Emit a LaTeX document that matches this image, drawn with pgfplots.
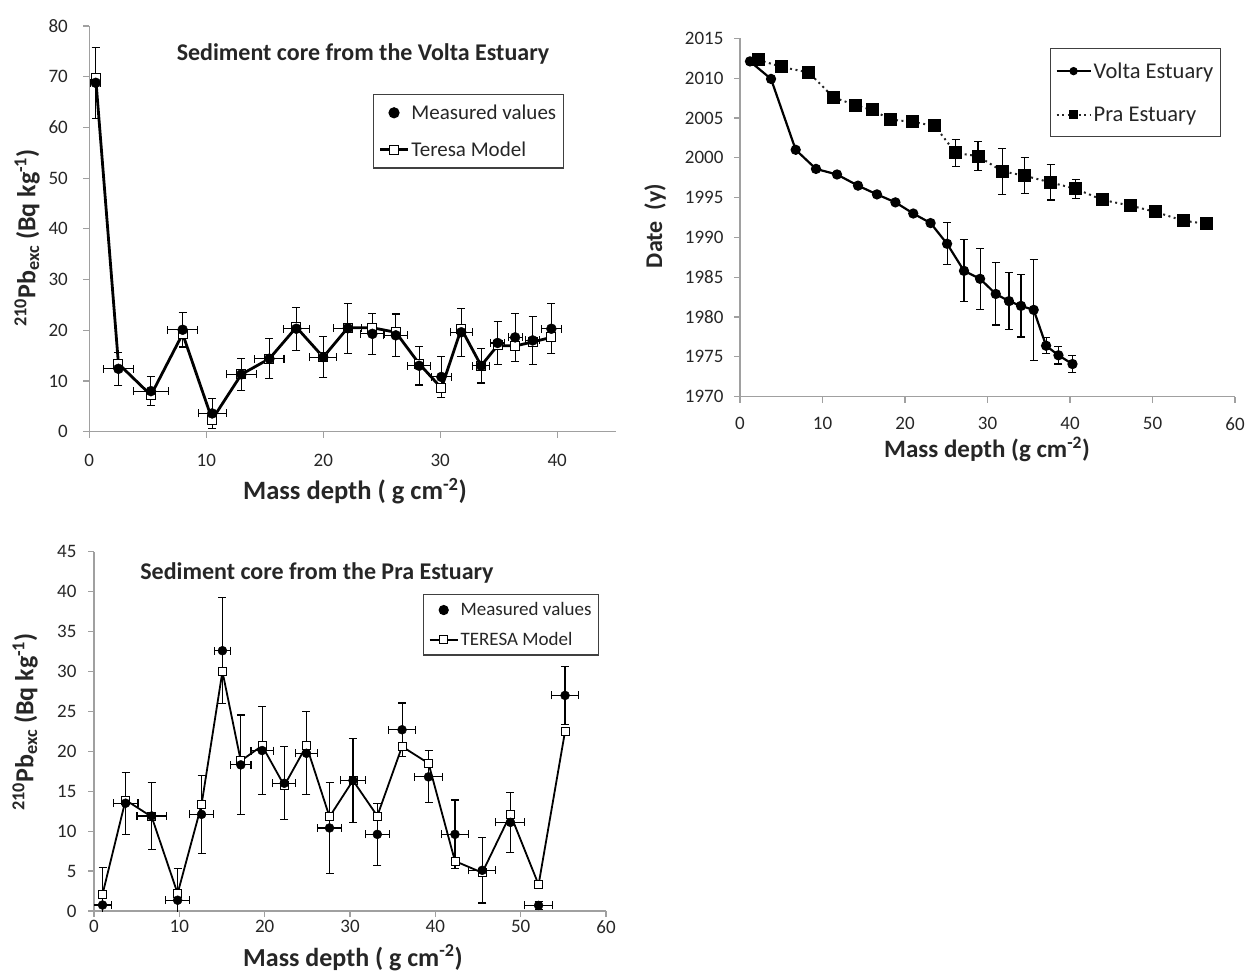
\documentclass[border=0pt]{standalone}
\usepackage{fontspec}
\setmainfont{Carlito}
\usepackage{pgfplots}
\pgfplotsset{compat=1.18}
\usepackage{pgfplotstable}

\pgfplotstableread{
x y ex ey
0.55 68.8 0.43 7.0
2.49 12.4 1.29 3.3
5.27 8.0 1.5 2.9
7.98 20.1 1.29 3.4
10.5 3.6 1.2 3.0
13.0 11.3 1.26 3.1
15.4 14.4 1.24 3.9
17.7 20.3 1.1 4.2
20.0 14.7 1.16 4.0
22.1 20.4 1.2 4.9
24.2 19.3 1.0 4.0
26.2 19.0 1.03 4.2
28.2 13.0 1.0 3.8
30.1 10.8 0.83 4.0
31.8 19.6 0.92 4.7
33.5 13.0 0.72 3.4
34.9 17.5 0.6 4.2
36.4 18.6 0.6 4.7
37.9 18.0 0.6 4.7
39.5 20.3 0.86 4.9
}\voltameas

\pgfplotstableread{
x y
0.55 69.7
2.49 13.4
5.27 7.2
7.98 19.3
10.5 2.4
13.0 11.3
15.4 14.4
17.7 20.6
20.0 14.7
22.1 20.5
24.2 20.5
26.2 19.6
28.2 13.4
30.1 8.6
31.8 20.3
33.5 13.0
34.9 17.0
36.4 16.9
37.9 17.7
39.5 18.6
}\voltamodel

\pgfplotstableread{
x y
1.21 2012.1
3.76 2009.9
6.75 2001.0
9.21 1998.6
11.76 1997.9
14.3 1996.5
16.6 1995.4
18.84 1994.4
21.0 1993.0
23.1 1991.8
25.1 1989.2
27.15 1985.8
29.1 1984.8
31.0 1982.9
32.6 1982.0
34.06 1981.4
35.6 1980.9
37.1 1976.4
38.6 1975.2
40.3 1974.1
}\voltadate

\pgfplotstableread{
x y ey
25.1 1989.2 2.65
27.15 1985.8 3.9
29.1 1984.8 3.8
31.0 1982.9 3.9
32.6 1982.0 3.6
34.06 1981.4 3.9
35.6 1980.9 6.3
37.1 1976.4 1.0
38.6 1975.2 1.1
40.3 1974.1 1.05
}\voltadateerr

\pgfplotstableread{
x y
2.22 2012.3
5.05 2011.4
8.36 2010.7
11.3 2007.6
13.98 2006.6
16.0 2006.0
18.3 2004.8
20.9 2004.5
23.6 2004.0
26.15 2000.6
28.85 2000.2
31.8 1998.3
34.5 1997.75
37.65 1996.9
40.7 1996.1
43.96 1994.7
47.3 1994.0
50.4 1993.2
53.7 1992.1
56.6 1991.7
}\pradate

\pgfplotstableread{
x y ey
26.15 2000.6 1.7
28.85 2000.2 1.8
31.8 1998.3 2.9
34.5 1997.75 2.25
37.65 1996.9 2.2
40.7 1996.1 1.2
}\pradateerr

\pgfplotstableread{
x y ex ey
1.0 0.75 1.07 4.7
3.7 13.5 1.46 3.9
6.76 11.9 1.72 4.15
9.8 1.35 1.4 4.0
12.6 12.1 1.4 4.9
15.05 32.6 0.98 6.65
17.2 18.3 1.2 6.25
19.7 20.1 1.3 5.5
22.3 16.0 1.35 4.55
24.9 19.75 1.3 5.2
27.6 10.4 1.37 5.65
30.35 16.35 1.5 5.3
33.2 9.6 1.39 3.9
36.1 22.7 1.54 3.35
39.2 16.8 1.6 3.25
42.3 9.6 1.58 4.3
45.5 5.1 1.6 4.1
48.8 11.1 1.7 3.75
52.1 0.7 1.6 0.5
55.2 27.0 1.56 3.6
}\prameas

\pgfplotstableread{
x y
1.0 2.1
3.7 13.9
6.76 11.8
9.8 2.2
12.6 13.3
15.05 30.0
17.2 18.8
19.7 20.7
22.3 15.7
24.9 20.7
27.6 11.8
30.35 16.35
33.2 11.9
36.1 20.6
39.2 18.5
42.3 6.25
45.5 4.8
48.8 12.1
52.1 3.3
55.2 22.5
}\pramodel

\definecolor{axgray}{RGB}{160,160,160}
\definecolor{txt}{RGB}{38,38,38}

\pgfplotsset{
  myax/.style={
    scale only axis,
    axis x line*=bottom, axis y line*=left,
    axis line style={draw=axgray, line width=1.2pt},
    tick style={draw=axgray, line width=1.2pt},
    tick align=outside, major tick length=6pt,
    /pgf/number format/assume math mode=true,
    /pgf/number format/1000 sep={},
    ticklabel style={font=\fontsize{19}{22}\selectfont, text=txt},
    legend cell align=left,
    legend image code/.code={\draw[mark repeat=2,mark phase=2,##1] plot coordinates {(0pt,0pt) (14pt,0pt) (28pt,0pt)};},
  },
  errs/.style={/pgfplots/error bars/error bar style={draw=black, line width=1.1pt, solid},
    /pgfplots/error bars/error mark options={rotate=90, draw=black, line width=1.1pt, mark size=4pt, solid}},
}

\begin{document}
\begin{tikzpicture}[x=1pt,y=1pt]
\path[use as bounding box] (0,0) rectangle (1248,978);

% ---------- Panel 1: Volta ----------
\begin{axis}[myax, at={(89.3pt,546.3pt)}, anchor=south west,
  width=526.4pt, height=405.7pt,
  xmin=0, xmax=45, ymin=0, ymax=80,
  xtick={0,10,...,40}, ytick={0,10,...,80},
  xticklabel style={yshift=-13pt}, yticklabel style={xshift=-12pt},
  reverse legend,
  legend style={at={(0.539,0.832)}, anchor=north west, draw=black!75, line width=1.2pt,
    font=\fontsize{21}{24}\selectfont, text=txt, row sep=17pt, inner xsep=5pt, inner ysep=8pt},
]
\addplot[black, line width=2.8pt, mark=square*, mark size=4.5pt,
  mark options={fill=white, draw=black, line width=1pt, solid}] table {\voltamodel};
\addlegendentry{Teresa Model}
\addplot[only marks, black, mark=*, mark size=5pt, errs,
  error bars/.cd, x dir=both, x explicit, y dir=both, y explicit]
  table[x=x, y=y, x error=ex, y error=ey] {\voltameas};
\addlegendentry{Measured values}
\end{axis}

% ---------- Panel 2: Dates ----------
\begin{axis}[myax, at={(740pt,581.3pt)}, anchor=south west,
  width=495pt, height=358.4pt,
  xmin=0, xmax=60, ymin=1970, ymax=2015,
  xtick={0,10,...,60}, ytick={1970,1975,...,2015},
  xticklabel style={yshift=-11pt}, yticklabel style={xshift=-7pt},
  legend image code/.code={\draw[mark repeat=2,mark phase=2,#1] plot coordinates {(0pt,0pt) (17pt,0pt) (34pt,0pt)};},
  legend style={at={(0.626,0.973)}, anchor=north west, draw=black!75, line width=1.2pt,
    font=\fontsize{22.5}{26}\selectfont, text=txt, row sep=23pt, inner xsep=5pt, inner ysep=12pt},
]
\addplot[black, line width=2.2pt, mark=*, mark size=4pt, legend image post style={mark size=3pt}] table {\voltadate};
\addlegendentry{Volta Estuary}
\addplot[black!85, line width=2pt, dash pattern=on 2pt off 3.5pt, mark=square*, mark size=5.5pt,
  mark options={solid, black}, legend image post style={mark size=3.6pt}] table {\pradate};
\addlegendentry{Pra Estuary}
\addplot[only marks, mark=none, forget plot, errs, error bars/.cd, y dir=both, y explicit]
  table[x=x, y=y, y error=ey] {\voltadateerr};
\addplot[only marks, mark=none, forget plot, errs, error bars/.cd, y dir=both, y explicit]
  table[x=x, y=y, y error=ey] {\pradateerr};
\end{axis}

% ---------- Panel 3: Pra ----------
\begin{axis}[myax, at={(94pt,67pt)}, anchor=south west,
  width=512pt, height=359.3pt,
  xmin=0, xmax=60, ymin=0, ymax=45,
  xtick={0,10,...,60}, ytick={0,5,...,45},
  yticklabel style={xshift=-8pt},
  reverse legend,
  legend style={at={(0.643,0.882)}, anchor=north west, draw=black!75, line width=1.2pt,
    font=\fontsize{19}{22}\selectfont, text=txt, row sep=11pt, inner xsep=5pt, inner ysep=6pt},
]
\addplot[black, line width=1.8pt, mark=square*, mark size=4pt,
  mark options={fill=white, draw=black, line width=0.9pt, solid}] table {\pramodel};
\addlegendentry{TERESA Model}
\addplot[only marks, black, mark=*, mark size=4.5pt, errs,
  error bars/.cd, x dir=both, x explicit, y dir=both, y explicit]
  table[x=x, y=y, x error=ex, y error=ey] {\prameas};
\addlegendentry{Measured values}
\end{axis}

% ---------- titles and labels ----------
\node[anchor=base, font=\fontsize{24}{28}\selectfont\bfseries, text=txt] at (363,917) {Sediment core from the Volta Estuary};
\node[anchor=base, font=\fontsize{24}{28}\selectfont\bfseries, text=txt] at (317,398) {Sediment core from the Pra Estuary};

\node[anchor=base, font=\fontsize{26.5}{30}\selectfont\bfseries, text=txt] at (355,478) {Mass depth ( g cm\textsuperscript{-2})};
\node[anchor=base, font=\fontsize{25}{28}\selectfont\bfseries, text=txt] at (987,520) {Mass depth (g cm\textsuperscript{-2})};
\node[anchor=base, font=\fontsize{26}{29}\selectfont\bfseries, text=txt] at (353,12) {Mass depth ( g cm\textsuperscript{-2})};

\node[rotate=90, anchor=center, font=\fontsize{26}{30}\selectfont\bfseries, text=txt] at (27,740) {\textsuperscript{210}Pb\textsubscript{exc} (Bq kg\textsuperscript{-1})};
\node[rotate=90, anchor=center, font=\fontsize{26}{30}\selectfont\bfseries, text=txt] at (25,256) {\textsuperscript{210}Pb\textsubscript{exc} (Bq kg\textsuperscript{-1})};
\node[rotate=90, anchor=center, font=\fontsize{24}{28}\selectfont\bfseries, text=txt] at (655,752) {Date\ \ (y)};
\end{tikzpicture}
\end{document}
